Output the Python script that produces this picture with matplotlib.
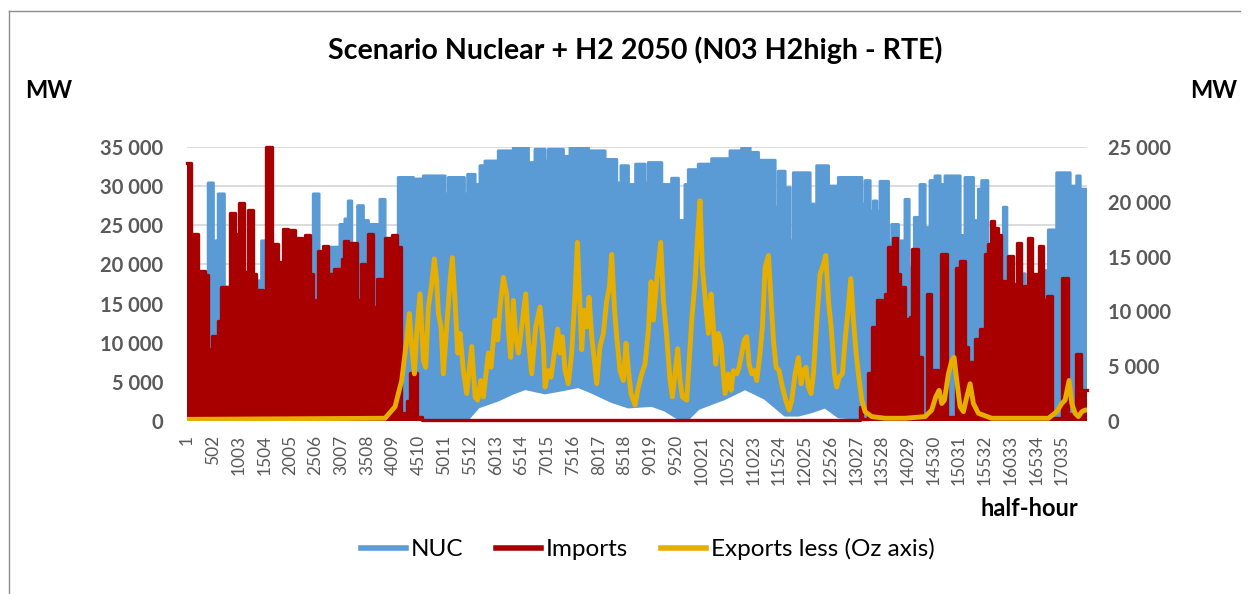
import numpy as np
import matplotlib
matplotlib.use('Agg')
import matplotlib.pyplot as plt
from matplotlib.lines import Line2D

plt.rcParams['font.family'] = ['Lato', 'DejaVu Sans']

# Half-hour index of each plateau start and its daily peak (MW) - imports
imports_start = [1, 78, 221, 350, 415, 448, 493, 610, 662, 805, 837, 935, 1000, 1019, 1116,
                 1181, 1194, 1292, 1343, 1389, 1486, 1538, 1648, 1681, 1765, 1876, 1973, 2005,
                 2103, 2148, 2245, 2297, 2401, 2460, 2505, 2557, 2654, 2739, 2817, 2856, 2979,
                 3012, 3063, 3141, 3303, 3349, 3388, 3531, 3628, 3693, 3823, 3855, 3985, 4083,
                 4167, 4277, 4342, 4472, 4569, 13103, 13149, 13266, 13331, 13428, 13526, 13590,
                 13655, 13752, 13817, 13882, 13979, 14076, 14122, 14226, 14316, 14401, 14485,
                 14615, 14680, 14790, 14965, 15050, 15147, 15212, 15245, 15342, 15439, 15537,
                 15589, 15653, 15718, 15783, 15848, 15926, 15991, 16088, 16153, 16238, 16302,
                 16380, 16458, 16543, 16588, 16672, 16737, 16835, 17042, 17146, 17302, 17406]
imports_mw = [33000, 23900, 19200, 18700, 9200, 4800, 10900, 12800, 17100, 12000, 26600, 23900,
              18000, 27900, 19000, 18000, 27000, 18800, 10500, 16700, 14300, 35000, 21100, 22600,
              20300, 24500, 19600, 24400, 19200, 23400, 19600, 23700, 18800, 6700, 15400, 21700,
              22400, 18800, 6300, 19400, 16700, 20700, 23000, 22800, 15400, 6100, 20100, 23900,
              14500, 18100, 14500, 23400, 23700, 22200, 1000, 2500, 6100, 550, 150, 1800, 300,
              6100, 12000, 15400, 550, 16200, 22200, 23400, 18800, 17100, 13000, 13300, 22000,
              8200, 550, 16200, 6500, 550, 21300, 550, 19600, 20500, 9500, 6900, 7500, 10500,
              11800, 21300, 22600, 25600, 24700, 23700, 17900, 9500, 21100, 17500, 22800, 12200,
              17300, 23400, 18800, 15800, 22400, 15400, 16000, 400, 18300, 900, 8600, 4000]

# Nuclear output: daily maximum plateaus and the daily minimum
nuc_start = [1, 415, 513, 578, 610, 727, 805, 1292, 1454, 1538, 2427, 2460, 2570, 2784, 2979,
             3076, 3141, 3206, 3323, 3433, 3466, 3531, 3726, 3758, 3855, 4083, 4115, 4407, 4453,
             4602, 5024, 5089, 5400, 5465, 5608, 5705, 5802, 6062, 6354, 6646, 6776, 6970, 7035,
             7327, 7457, 7814, 8138, 8365, 8450, 8593, 8735, 8917, 8982, 9242, 9436, 9566, 9663,
             9696, 9761, 9955, 10215, 10572, 10767, 10800, 10962, 10994, 11124, 11449, 11513,
             11643, 11741, 11806, 12130, 12260, 12487, 12682, 13136, 13201, 13298, 13363, 13428,
             13493, 13655, 13720, 13850, 13979, 14057, 14161, 14271, 14368, 14466, 14563, 14660,
             14758, 15050, 15147, 15310, 15407, 15472, 15589, 15848, 15894, 15959, 16218, 16316,
             16672, 16770, 16932, 17192, 17322, 17387]
nuc_max = [15000, 30400, 23000, 17900, 29000, 17100, 15000, 17900, 23000, 15000, 20700, 29000,
           15000, 22200, 25100, 25800, 28100, 15000, 27500, 20000, 25600, 25100, 22000, 28300,
           22000, 23000, 31100, 24000, 30900, 31300, 29000, 31100, 29000, 31500, 30200, 32600,
           33200, 34500, 34900, 33000, 34700, 33200, 34700, 33800, 35000, 34500, 33400, 30400,
           32600, 30200, 32800, 30400, 33000, 30200, 31000, 25600, 21700, 30200, 32100, 32800,
           33500, 34500, 27100, 34900, 31900, 34300, 33300, 27300, 31900, 29800, 23000, 31700,
           27700, 32600, 30000, 31100, 27700, 30700, 26800, 28100, 26800, 30600, 22600, 25100,
           23000, 28300, 19600, 26000, 30200, 24700, 30700, 31300, 30200, 31300, 23700, 31100,
           25600, 29600, 30700, 15000, 17000, 27300, 15000, 18800, 15000, 19200, 24400, 31700,
           30000, 31300, 29600]
nuc_min_hh = [1, 4170, 5478, 5673, 6062, 6322, 6581, 6970, 7230, 7619, 7879, 8268, 8593, 9047,
              9306, 9566, 9761, 9955, 10475, 10864, 11254, 11643, 11903, 12162, 12422, 12682,
              13071, 17520]
nuc_min = [500, 500, 340, 1800, 2700, 3500, 4150, 3600, 3900, 4400, 3700, 2500, 1800, 2000,
           1400, 340, 340, 1600, 2900, 4150, 2900, 760, 760, 1200, 1800, 550, 340, 300]

# Exports surplus, secondary axis (MW)
exports_hh = [1, 3855, 4050, 4180, 4277, 4329, 4375, 4427, 4472, 4537, 4602, 4647, 4699, 4764,
              4816, 4861, 4894, 4946, 4991, 5056, 5121, 5166, 5218, 5270, 5316, 5380, 5445, 5543,
              5608, 5660, 5718, 5770, 5867, 5919, 5997, 6049, 6094, 6159, 6224, 6257, 6302, 6354,
              6399, 6451, 6516, 6594, 6646, 6711, 6789, 6873, 6938, 6970, 7035, 7087, 7152, 7217,
              7262, 7307, 7359, 7424, 7489, 7554, 7600, 7638, 7684, 7729, 7781, 7827, 7879, 7924,
              7976, 8041, 8106, 8171, 8223, 8268, 8320, 8365, 8430, 8495, 8547, 8593, 8644, 8722,
              8787, 8852, 8917, 8982, 9034, 9079, 9144, 9222, 9274, 9339, 9404, 9449, 9501, 9553,
              9598, 9644, 9728, 9780, 9826, 9891, 9943, 9988, 10033, 10085, 10150, 10202, 10247,
              10293, 10345, 10397, 10442, 10475, 10540, 10592, 10637, 10702, 10748, 10812, 10851,
              10897, 10942, 10994, 11046, 11092, 11156, 11202, 11254, 11319, 11371, 11416, 11468,
              11526, 11591, 11656, 11721, 11773, 11838, 11903, 11955, 12000, 12052, 12098, 12149,
              12195, 12260, 12325, 12390, 12435, 12487, 12539, 12604, 12649, 12695, 12759, 12811,
              12857, 12922, 12974, 13026, 13071, 13136, 13201, 13331, 13590, 13979, 14368, 14498,
              14576, 14641, 14693, 14745, 14823, 14888, 14933, 14985, 15050, 15115, 15180, 15245,
              15309, 15407, 15666, 16770, 16932, 17029, 17094, 17172, 17224, 17289, 17354, 17419,
              17483, 17520]
exports_mw = [150, 250, 1300, 3700, 7400, 9800, 6800, 4300, 8000, 11600, 5500, 4900, 10400, 12500,
              14800, 12800, 9800, 8600, 4300, 8600, 12800, 14900, 11000, 6200, 8000, 4600, 2500,
              6800, 2200, 1900, 3700, 2200, 6200, 4900, 9200, 7400, 10400, 13100, 11600, 8300, 5800,
              11000, 7700, 6200, 8600, 11600, 7400, 4300, 8600, 10400, 6800, 3100, 4600, 4000, 6200,
              8400, 6200, 7700, 4600, 3400, 6200, 11600, 16300, 11900, 6500, 10100, 8600, 11300,
              7700, 5800, 3400, 6800, 8000, 11000, 12200, 15200, 10400, 7700, 4600, 3700, 7100,
              4600, 2500, 1450, 3100, 4300, 5200, 8300, 12700, 9200, 12800, 16300, 11000, 7700,
              3700, 2200, 4300, 6600, 3700, 2200, 1900, 5800, 9200, 12800, 17100, 20100, 14000,
              11300, 8000, 11600, 8600, 5200, 8000, 7100, 4300, 2500, 4300, 2800, 4600, 4300, 4900,
              6500, 7400, 7700, 5200, 4300, 4600, 3700, 6200, 8600, 14000, 15100, 11000, 7400, 4900,
              4600, 3100, 1900, 1000, 1900, 4300, 5800, 3400, 4600, 4900, 3100, 2500, 4300, 9200,
              13400, 14300, 15100, 11000, 8600, 4300, 3100, 4000, 4300, 7400, 9500, 13000, 9200,
              6200, 4300, 1900, 850, 400, 250, 250, 400, 1000, 2200, 2800, 1600, 1900, 4300, 5500,
              5800, 3700, 1300, 850, 2200, 3400, 1600, 700, 250, 250, 850, 1600, 1900, 3700, 1600,
              700, 400, 850, 1000, 1000]

n_halfhours = 17520
xtick_pos = list(range(1, n_halfhours + 1, 501))
left_ticks = [0, 5000, 10000, 15000, 20000, 25000, 30000, 35000]
right_ticks = [0, 5000, 10000, 15000, 20000, 25000]

c_nuc = '#5B9BD5'
c_imp = '#A80000'
c_exp = '#E6AF00'
c_tick = '#595959'


def steps(start, vals, end):
    xs = np.repeat(list(start[1:]) + [end], 2)
    xs = np.concatenate([[start[0]], xs[:-1]])
    return xs, np.repeat(vals, 2)


def fmt(v):
    return f'{v:,}'.replace(',', ' ')


fig = plt.figure(figsize=(12.48, 5.94), dpi=100)
ax = fig.add_axes([187 / 1248, 1 - 421 / 594, 900 / 1248, 274 / 594])

# NUC band: stepped daily maximum on top, daily minimum underneath
top_x, top_y = steps(nuc_start, nuc_max, n_halfhours)
band_x = np.concatenate([top_x, nuc_min_hh[::-1]])
band_y = np.concatenate([top_y, nuc_min[::-1]])
ax.fill(band_x, band_y, color=c_nuc, lw=2.2, ec=c_nuc, joinstyle='round', zorder=2)

# Imports
imp_x, imp_y = steps(imports_start, imports_mw, n_halfhours)
ax.fill_between(imp_x, 0, imp_y, color=c_imp, lw=0, zorder=3)
ax.plot(imp_x, imp_y, color=c_imp, lw=2.4, solid_joinstyle='round', zorder=3, clip_on=False)

ax.set_xlim(0.5, n_halfhours + 0.5)
ax.set_ylim(0, 35000)
ax.set_yticks(left_ticks)
ax.set_yticklabels([fmt(v) for v in left_ticks], fontsize=14.5, fontweight='bold', color=c_tick)
ax.set_xticks(xtick_pos)
ax.set_xticklabels([str(v) for v in xtick_pos], rotation=90, fontsize=12.5, color=c_tick)
ax.tick_params(axis='x', length=0, pad=10)
ax.tick_params(axis='y', length=0, pad=17)
ax.grid(axis='y', color='#D9D9D9', lw=1.3)
ax.set_axisbelow(True)
for s in ax.spines.values():
    s.set_visible(False)

# Exports on the secondary axis
ax2 = ax.twinx()
ax2.plot(exports_hh, exports_mw, color=c_exp, lw=3.5, solid_joinstyle='round',
         solid_capstyle='round', zorder=4)
ax2.set_ylim(0, 25000)
ax2.set_yticks(right_ticks)
ax2.set_yticklabels([fmt(v) for v in right_ticks], fontsize=14.5, fontweight='bold', color=c_tick)
ax2.tick_params(axis='y', length=0, pad=15)
for s in ax2.spines.values():
    s.set_visible(False)

fig.text(635 / 1248, 1 - 50 / 594, 'Scenario Nuclear + H2 2050 (N03 H2high - RTE)',
         fontsize=20.6, fontweight='bold', ha='center', va='center')
fig.text(25 / 1248, 1 - 91 / 594, 'MW', fontsize=17, fontweight='bold', ha='left', va='center')
fig.text(1190 / 1248, 1 - 91 / 594, 'MW', fontsize=17, fontweight='bold', ha='left', va='center')
fig.text(1078 / 1248, 1 - 509 / 594, 'half-hour', fontsize=17, fontweight='bold',
         ha='right', va='center')

handles = [Line2D([], [], color=c_nuc, lw=4),
           Line2D([], [], color=c_imp, lw=4),
           Line2D([], [], color=c_exp, lw=4)]
fig.legend(handles, ['NUC', 'Imports', 'Exports less (Oz axis)'], loc='center',
           bbox_to_anchor=(648 / 1248, 1 - 549 / 594), ncol=3, frameon=False, fontsize=17.5,
           handlelength=1.85, handletextpad=0.2, columnspacing=1.35)

# chart frame
fig.add_artist(plt.Line2D([8.5 / 1248, 8.5 / 1248], [0, 1 - 10.5 / 594], color='#8C8C8C', lw=1))
fig.add_artist(plt.Line2D([8.5 / 1248, 1240 / 1248], [1 - 10.5 / 594, 1 - 10.5 / 594],
                          color='#8C8C8C', lw=1))

fig.savefig('out.png', dpi=100)
